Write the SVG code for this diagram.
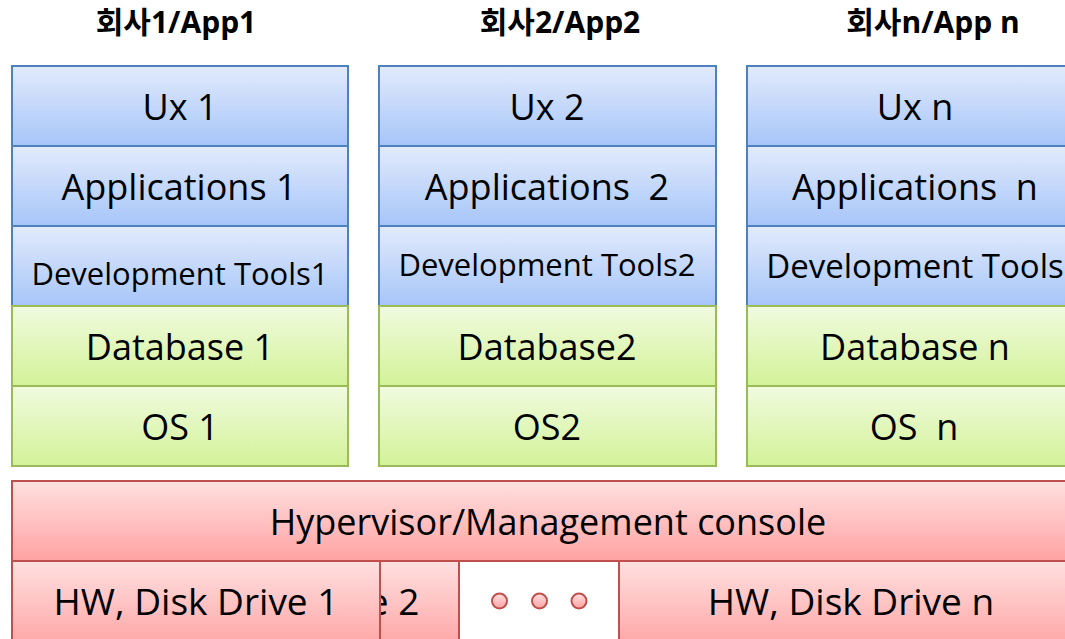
<svg xmlns="http://www.w3.org/2000/svg" width="1065" height="639" viewBox="0 0 1065 639">
<defs>
<linearGradient id="gb" x1="0" y1="0" x2="0" y2="1"><stop offset="0" stop-color="#e2ebfc"/><stop offset="1" stop-color="#a6c5f9"/></linearGradient>
<linearGradient id="gg" x1="0" y1="0" x2="0" y2="1"><stop offset="0" stop-color="#f0fbe0"/><stop offset="1" stop-color="#d3f297"/></linearGradient>
<linearGradient id="gr" x1="0" y1="0" x2="0" y2="1"><stop offset="0" stop-color="#ffe0e0"/><stop offset="1" stop-color="#ffa2a2"/></linearGradient>
</defs>
<style>
.b{fill:url(#gb);stroke:#4f81bd;stroke-width:2}
.g{fill:url(#gg);stroke:#9bbb59;stroke-width:2}
.r{fill:url(#gr);stroke:#c0504d;stroke-width:2}
.w{fill:#ffffff;stroke:#c0504d;stroke-width:2}
.t{font-family:"Open Sans","Noto Sans",sans-serif;font-size:36px;fill:#000;text-anchor:middle}
.s{font-size:31px}
.hw{font-size:37px}
.h{font-family:"Open Sans","Noto Sans CJK KR",sans-serif;font-size:30px;font-weight:bold;fill:#000;text-anchor:middle}
</style>
<g id="titles">
<text class="h" x="176" y="33">회사1/App1</text>
<text class="h" x="560" y="33">회사2/App2</text>
<text class="h" x="933" y="33">회사n/App n</text>
</g>
<g id="stack1">
<rect class="b" x="12" y="66" width="336" height="80"/>
<text class="t" x="180" y="120">Ux 1</text>
<rect class="b" x="12" y="146" width="336" height="80"/>
<text class="t" x="179" y="200">Applications 1</text>
<rect class="b" x="12" y="226" width="336" height="80"/>
<text class="t s" x="180" y="285">Development Tools1</text>
<rect class="g" x="12" y="306" width="336" height="80"/>
<text class="t" x="180" y="360">Database 1</text>
<rect class="g" x="12" y="386" width="336" height="80"/>
<text class="t" x="180" y="440">OS 1</text>
</g>
<g id="stack2">
<rect class="b" x="379" y="66" width="337" height="80"/>
<text class="t" x="547" y="120">Ux 2</text>
<rect class="b" x="379" y="146" width="337" height="80"/>
<text class="t" x="547" y="200" xml:space="preserve">Applications  2</text>
<rect class="b" x="379" y="226" width="337" height="80"/>
<text class="t s" x="547" y="276">Development Tools2</text>
<rect class="g" x="379" y="306" width="337" height="80"/>
<text class="t" x="547" y="360">Database2</text>
<rect class="g" x="379" y="386" width="337" height="80"/>
<text class="t" x="547" y="440">OS2</text>
</g>
<g id="stackn">
<rect class="b" x="747" y="66" width="336" height="80"/>
<text class="t" x="915" y="120">Ux n</text>
<rect class="b" x="747" y="146" width="336" height="80"/>
<text class="t" x="915" y="200" xml:space="preserve">Applications  n</text>
<rect class="b" x="747" y="226" width="336" height="80"/>
<text class="t" x="915" y="278" style="font-size:33px">Development Tools</text>
<rect class="g" x="747" y="306" width="336" height="80"/>
<text class="t" x="915" y="360">Database n</text>
<rect class="g" x="747" y="386" width="336" height="80"/>
<text class="t" x="914" y="440" xml:space="preserve">OS  n</text>
</g>
<g id="hypervisor">
<rect class="r" x="12" y="481" width="1072" height="80"/>
<text class="t" x="548" y="535">Hypervisor/Management console</text>
</g>
<g id="hw2">
<rect class="r" x="91" y="561" width="368" height="90"/>
<text class="t hw" x="277" y="615">HW, Disk Drive 2</text>
</g>
<g id="hw1">
<rect class="r" x="12" y="561" width="368" height="90"/>
<text class="t hw" x="196" y="615">HW, Disk Drive 1</text>
</g>
<g id="dots">
<rect class="w" x="459" y="561" width="160" height="90"/>
<circle class="r" cx="499.5" cy="601" r="7.5"/>
<circle class="r" cx="539.5" cy="601" r="7.5"/>
<circle class="r" cx="579" cy="601" r="7.5"/>
</g>
<g id="hwn">
<rect class="r" x="619" y="561" width="464" height="90"/>
<text class="t hw" x="851" y="615">HW, Disk Drive n</text>
</g>
<g id="connectors"/>
</svg>
